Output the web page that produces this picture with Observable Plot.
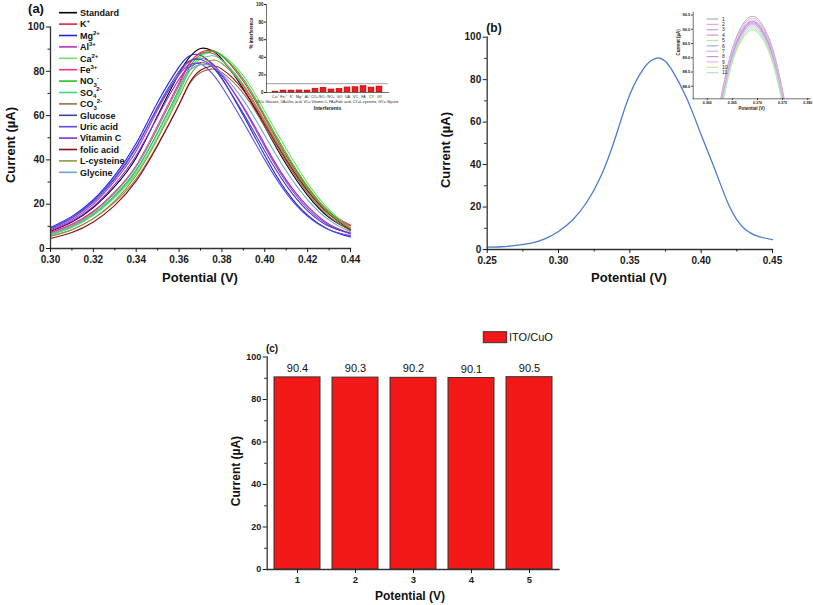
<!DOCTYPE html>
<html><head><meta charset="utf-8">
<script src="https://cdn.jsdelivr.net/npm/d3@7"></script>
<script src="https://cdn.jsdelivr.net/npm/@observablehq/plot@0.6"></script>
<style>
body{margin:0;background:#fff;font-family:"Liberation Sans",Arial,sans-serif;}
#root{position:relative;width:813px;height:605px;overflow:hidden;background:#fff}
.t{position:absolute;white-space:nowrap;color:#111;line-height:1}
</style></head><body><div id="root"></div>
<script>
// ---------- Panel (a): interferent DPV curves ----------
const potentialA = [0.30,0.31,0.32,0.33,0.34,0.35,0.36,0.365,0.37,0.375,0.38,0.39,0.40,0.41,0.42,0.43,0.44];
const seriesA = ["Standard","K+","Mg2+","Al3+","Ca2+","Fe3+","NO3-","SO42-","CO32-","Glucose","Uric acid","Vitamin C","folic acid","L-cysteine","Glycine"];
const legendBaseA = ["Standard","K","Mg","Al","Ca","Fe","NO","SO","CO","Glucose","Uric acid","Vitamin C","folic acid","L-cysteine","Glycine"];
const legendSubA = ["","","","","","","3","4","3","","","","","",""];
const legendSupA = ["","+","2+","3+","2+","3+","-","2-","2-","","","","","",""];
const colorsA = ["#000000","#e8243f","#2424dc","#b834c4","#6ee06e","#ff2e86","#22c022","#3ad884","#a06c4c","#3a46ac","#5c4ce8","#8c2ce0","#880c1c","#8c9c3c","#6ea4cc"];
const currentStandard = [7.8,12,18.5,28,41,60,79,86.5,90.3,89.5,85.5,72,55,38,24,14,8.5];
const currentK   = [7.3,11,16.8,25.5,37,54.5,74,83.5,88.5,89.5,87,75.5,59,42,27.5,16.5,10.5];
const currentMg  = [9.5,14.5,22,33,47.5,66,82,87,87.3,83.5,77,60,42,26,15,8.5,5.2];
const currentAl  = [8.5,13,20,30.5,44,62.5,79,84.5,86,84,78.5,63.5,46,30,18,10.5,6.5];
const currentCa  = [6,9.5,15,23,34,50.5,70,80.5,86.5,88.8,87.5,78,62,45,29.5,17.5,9.5];
const currentFe  = [7,10.8,16.5,25.5,37.5,55.5,75,84,88,88.3,85,73,57,40.5,26.5,16,10.2];
const currentNO3 = [6.5,10,15.5,24,35.5,52.5,72,82,87.5,89,87,76.5,60,43,28,16.5,9];
const currentSO4 = [6.2,9.8,15.2,23.5,35,52,71,80.5,85.5,87,85,74,57.5,41,26.5,15.5,8.5];
const currentCO3 = [5.5,8.5,13.5,21,31.5,47,65,74.5,79.5,81,79.5,70,55,39,25,14.5,8];
const currentGlucose = [9,13.8,21,31.5,45.5,64,80,84.8,85.3,82.5,76.5,61,44,28.5,17,10,7];
const currentUric = [9.2,14,21.5,32,46,63.5,78.5,83,83.3,79.5,73,57,40,25,14.5,8.5,5.8];
const currentVitC = [8,12.3,19,29,42,59.5,76.5,82,84,82.5,78,64,47,31,19,11,6.8];
const currentFolic = [4.5,7.2,12,19.5,30.5,46.5,65,75,80.5,82.3,81,71.5,56,40,26,15.5,8.5];
const currentCys = [5.5,8.5,13.5,21.5,33,49.5,68.5,78,83.5,85,83.5,73.5,57.5,41,27,16,9];
const currentGly = [6.5,10.3,16.2,25,37,55,73.5,80.5,83,82.5,79,67,51,35,22,12.8,7.5];
const valuesA = [currentStandard,currentK,currentMg,currentAl,currentCa,currentFe,currentNO3,currentSO4,currentCO3,currentGlucose,currentUric,currentVitC,currentFolic,currentCys,currentGly];
const ticksXA = [0.30,0.32,0.34,0.36,0.38,0.40,0.42,0.44];
const minorXA = [0.31,0.33,0.35,0.37,0.39,0.41,0.43];
const ticksY = [0,20,40,60,80,100];
const minorY = [10,30,50,70,90];

// ---------- Inset of (a): % interference ----------
const interferents = ["Ca²⁺","Fe³⁺","K⁺","Mg²⁺","Al³⁺","CO₃²⁻","SO₄²⁻","NO₃⁻","GO","UA","VC","FA","CY","GY"];
const interference = [1.1,2.3,2.3,2.4,2.3,4.4,5.5,3.5,4.3,5.8,6.2,7.5,5.7,6.8];
const interferenceLimit = [10];
const insetCaption = "GO= Glucose, UA=Uric acid, VC= Vitamin C, FA=Folic acid, CY=L-cysteine, GY= Glycine";

// ---------- Panel (b): repeated measurements ----------
const potentialB = [0.25,0.26,0.27,0.28,0.29,0.30,0.31,0.32,0.33,0.34,0.35,0.36,0.365,0.37,0.375,0.38,0.39,0.40,0.41,0.42,0.43,0.44,0.45];
const currentB = [1.1,1.3,1.9,2.9,4.9,8.5,14,22.5,35,53,73,85.5,89,90.3,88.6,84,71,54,37,20,10,6.2,4.6];
const ticksXB = [0.25,0.30,0.35,0.40,0.45];
const minorXB = [0.275,0.325,0.375,0.425];

// ---------- Inset of (b): zoom on peak, 11 runs ----------
const runsB = ["1","2","3","4","5","6","7","8","9","10","11"];
const colorsRuns = ["#98b6b6","#f0a6c8","#b6a6ea","#de8ed0","#b2e8a2","#a8a8e2","#d2b2f2","#c896d2","#f2b0ea","#cce892","#a8e2e2"];
const potentialInset = [0.362,0.364,0.366,0.368,0.369,0.370,0.372,0.374,0.376];
const run1  = [86.95,88.67,89.81,90.38,90.45,90.38,89.81,88.67,86.95];
const run2  = [86.88,88.60,89.74,90.31,90.38,90.31,89.74,88.60,86.88];
const run3  = [86.78,88.50,89.64,90.21,90.28,90.21,89.64,88.50,86.78];
const run4  = [86.72,88.44,89.58,90.15,90.22,90.15,89.58,88.44,86.72];
const run5  = [86.50,88.22,89.36,89.93,90.00,89.93,89.36,88.22,86.50];
const run6  = [86.68,88.40,89.54,90.11,90.18,90.11,89.54,88.40,86.68];
const run7  = [86.62,88.34,89.48,90.05,90.12,90.05,89.48,88.34,86.62];
const run8  = [86.75,88.47,89.61,90.18,90.25,90.18,89.61,88.47,86.75];
const run9  = [86.82,88.54,89.68,90.25,90.32,90.25,89.68,88.54,86.82];
const run10 = [86.45,88.17,89.31,89.88,89.95,89.88,89.31,88.17,86.45];
const run11 = [86.56,88.28,89.42,89.99,90.06,89.99,89.42,88.28,86.56];
const runValues = [run1,run2,run3,run4,run5,run6,run7,run8,run9,run10,run11];
const ticksXInset = [0.360,0.365,0.370,0.375,0.380];
const ticksYInset = [88.0,88.5,89.0,89.5,90.0,90.5];

// ---------- Panel (c): bar chart ----------
const trials = ["1","2","3","4","5"];
const currentC = [90.4,90.3,90.2,90.1,90.5];

// ================= drawing =================
const root = document.getElementById("root");
const FONT = '"Liberation Sans", Arial, sans-serif';
const baseStyle = {fontFamily: FONT, color: "#1a1a1a", background: "transparent", overflow: "visible"};
function place(node, left, top) {
  node.style.position = "absolute";
  node.style.left = left + "px";
  node.style.top = top + "px";
  root.appendChild(node);
  return node;
}
function label(html, x, y, size, opts = {}) {
  const d = document.createElement("div");
  d.className = "t";
  d.innerHTML = html;
  d.style.left = x + "px";
  d.style.top = y + "px";
  d.style.fontSize = size + "px";
  d.style.fontWeight = opts.weight || "bold";
  d.style.transform = "translate(-50%,-50%)" + (opts.rotate ? ` rotate(${opts.rotate}deg)` : "");
  root.appendChild(d);
}
const axisLines = (w = 1.3) => [
  Plot.frame({anchor: "left", stroke: "#333", strokeWidth: w}),
  Plot.frame({anchor: "bottom", stroke: "#333", strokeWidth: w})
];

// (a)
const rowsA = seriesA.flatMap((s, i) => potentialA.map((p, j) => ({series: s, potential: p, current: valuesA[i][j]})));
const plotA = Plot.plot({
  width: 420, height: 300, marginLeft: 50, marginRight: 70, marginTop: 26.5, marginBottom: 52,
  style: baseStyle,
  x: {domain: [0.30, 0.44]}, y: {domain: [0, 100]},
  color: {domain: seriesA, range: colorsA},
  marks: [
    Plot.line(rowsA, {x: "potential", y: "current", z: "series", stroke: "series", curve: "natural", strokeWidth: 1.1}),
    ...axisLines(),
    Plot.axisX(ticksXA, {tickSize: 4, tickPadding: 3, tickFormat: d3.format(".2f"), fontSize: 10, fontWeight: "bold", label: null}),
    Plot.axisX(minorXA, {tickSize: 2.5, tickFormat: () => "", label: null}),
    Plot.axisY(ticksY, {tickSize: 4, tickPadding: 2, fontSize: 10, fontWeight: "bold", label: null}),
    Plot.axisY(minorY, {tickSize: 2.5, tickFormat: () => "", label: null})
  ]
});
place(plotA, 0, 0);

// legend (a)
const legA = d3.create("svg").attr("width", 160).attr("height", 190);
seriesA.forEach((s, i) => {
  const y = 12.7 + i * 11.4;
  legA.append("line").attr("x1", 59).attr("x2", 77).attr("y1", y).attr("y2", y)
    .attr("stroke", colorsA[i]).attr("stroke-width", 1.6);
  const t = legA.append("text").attr("x", 80).attr("y", y + 3.2)
    .attr("font-size", 9).attr("font-weight", "bold").attr("font-family", FONT).attr("fill", "#111");
  t.append("tspan").text(legendBaseA[i]);
  if (legendSubA[i]) t.append("tspan").attr("font-size", 6).attr("dy", 2.5).text(legendSubA[i]);
  if (legendSupA[i]) t.append("tspan").attr("font-size", 6).attr("dy", legendSubA[i] ? -7 : -4).text(legendSupA[i]);
});
place(legA.node(), 0, 0);

// inset (a)
const tableAi = interferents.map((name, i) => ({name, value: interference[i]}));
const plotAi = Plot.plot({
  width: 170, height: 120, marginLeft: 26, marginRight: 22, marginTop: 4, marginBottom: 28,
  style: baseStyle,
  x: {domain: interferents, paddingInner: 0.25, paddingOuter: 0.15}, y: {domain: [0, 100]},
  marks: [
    Plot.barY(tableAi, {x: "name", y: "value", fill: "#ee1c1c", stroke: "#9a0000", strokeWidth: 0.4}),
    Plot.ruleY(interferenceLimit, {stroke: "#888", strokeWidth: 0.8}),
    ...axisLines(0.7),
    Plot.axisY(ticksY, {tickSize: 2, tickPadding: 1, fontSize: 4.5, fontWeight: "bold", label: null}),
    Plot.axisX({tickSize: 0, tickPadding: 2.5, fontSize: 3.6, label: null}),
    Plot.text([insetCaption], {text: d => d, frameAnchor: "bottom", dy: 10, fontSize: 3.6}),
    Plot.text(["Interferents"], {text: d => d, frameAnchor: "bottom", dy: 17, fontSize: 5, fontWeight: "bold"}),
    Plot.text(["% interference"], {text: d => d, frameAnchor: "left", dx: -15, rotate: -90, fontSize: 4.5, fontWeight: "bold"})
  ]
});
place(plotAi, 240, 0);

// (b)
const rowsB = potentialB.map((p, i) => ({potential: p, current: currentB[i]}));
const plotB = Plot.plot({
  width: 393, height: 300, marginLeft: 66.7, marginRight: 41, marginTop: 36.7, marginBottom: 51,
  style: baseStyle,
  x: {domain: [0.25, 0.45]}, y: {domain: [0, 100]},
  marks: [
    Plot.line(rowsB, {x: "potential", y: "current", curve: "natural", stroke: "#4a7cd0", strokeWidth: 1.3}),
    ...axisLines(),
    Plot.axisX(ticksXB, {tickSize: 4, tickPadding: 3, tickFormat: d3.format(".2f"), fontSize: 10, fontWeight: "bold", label: null}),
    Plot.axisX(minorXB, {tickSize: 2.5, tickFormat: () => "", label: null}),
    Plot.axisY(ticksY, {tickSize: 4, tickPadding: 2, fontSize: 10, fontWeight: "bold", label: null}),
    Plot.axisY(minorY, {tickSize: 2.5, tickFormat: () => "", label: null})
  ]
});
place(plotB, 420, 0);

// inset (b)
const rowsInset = runsB.flatMap((r, i) => potentialInset.map((p, j) => ({run: r, potential: p, current: runValues[i][j]})));
const plotBi = Plot.plot({
  width: 153, height: 115, marginLeft: 32.7, marginRight: 3.3, marginTop: 11.7, marginBottom: 16.7,
  style: baseStyle,
  x: {domain: [0.3572, 0.3805]}, y: {domain: [87.56, 90.6]},
  color: {domain: runsB, range: colorsRuns},
  marks: [
    Plot.line(rowsInset, {x: "potential", y: "current", z: "run", stroke: "run", curve: "natural", strokeWidth: 1, clip: true}),
    ...axisLines(0.7),
    Plot.axisX(ticksXInset, {tickSize: 1.5, tickPadding: 1.2, tickFormat: d3.format(".3f"), fontSize: 3.6, fontWeight: "bold", label: null}),
    Plot.axisY(ticksYInset, {tickSize: 1.5, tickPadding: 1.5, tickFormat: d3.format(".1f"), fontSize: 4, fontWeight: "bold", label: null}),
    Plot.text(["Potential (V)"], {text: d => d, frameAnchor: "bottom", dy: 11.5, fontSize: 4.5, fontWeight: "bold"}),
    Plot.text(["Current (µA)"], {text: d => d, frameAnchor: "left", dx: -15, rotate: -90, fontSize: 4.5, fontWeight: "bold"})
  ]
});
place(plotBi, 660, 0);

// legend inset (b)
const legB = d3.create("svg").attr("width", 40).attr("height", 80);
runsB.forEach((r, i) => {
  const y = 19 + i * 5.37;
  legB.append("line").attr("x1", 6.7).attr("x2", 18.3).attr("y1", y).attr("y2", y)
    .attr("stroke", colorsRuns[i]).attr("stroke-width", 1.2);
  legB.append("text").attr("x", 22).attr("y", y + 1.7).attr("font-size", 5).attr("font-family", FONT)
    .attr("fill", "#222").text(r);
});
place(legB.node(), 700, 0);

// (c)
const tableC = trials.map((t, i) => ({trial: t, current: currentC[i]}));
const plotC = Plot.plot({
  width: 400, height: 305, marginLeft: 96.7, marginRight: 11.5, marginTop: 56.5, marginBottom: 36,
  style: baseStyle,
  x: {domain: trials, paddingInner: 0.21, paddingOuter: 0.105}, y: {domain: [0, 100]},
  marks: [
    Plot.barY(tableC, {x: "trial", y: "current", fill: "#f21818", stroke: "#333", strokeWidth: 1}),
    Plot.text(tableC, {x: "trial", y: "current", text: d => d.current.toFixed(1), dy: -9, fontSize: 11, fill: "#111"}),
    ...axisLines(),
    Plot.axisX({tickSize: 4, tickPadding: 3, fontSize: 9.5, fontWeight: "bold", label: null}),
    Plot.axisY(ticksY, {tickSize: 4, tickPadding: 2, fontSize: 9, fontWeight: "bold", label: null}),
    Plot.axisY(minorY, {tickSize: 2.5, tickFormat: () => "", label: null})
  ]
});
place(plotC, 170, 300);

// legend (c)
const legC = d3.create("svg").attr("width", 100).attr("height", 25);
legC.append("rect").attr("x", 3.3).attr("y", 6.7).attr("width", 23.4).attr("height", 11)
  .attr("fill", "#f21818").attr("stroke", "#333").attr("stroke-width", 1);
legC.append("text").attr("x", 29).attr("y", 16).attr("font-size", 11).attr("font-family", FONT)
  .attr("fill", "#111").text("ITO/CuO");
place(legC.node(), 480, 325);

// titles and panel letters
label("(a)", 36, 8, 13);
label("(b)", 494, 28, 12);
label("(c)", 272, 349, 10);
label("Current (µA)", 10, 145, 13, {rotate: -90});
label("Potential (V)", 200, 277, 13);
label("Current (µA)", 445, 150, 13, {rotate: -90});
label("Potential (V)", 629, 277, 13);
label("Current (µA)", 236, 471, 12, {rotate: -90});
label("Potential (V)", 410, 596, 12);
</script></body></html>
